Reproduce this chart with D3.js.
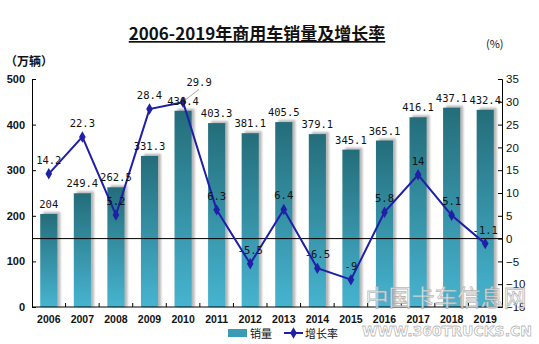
<!DOCTYPE html>
<html><head><meta charset="utf-8">
<script src="https://cdn.jsdelivr.net/npm/d3@7"></script>
<style>
body{margin:0;background:#fff;}
svg{display:block;}
</style></head>
<body>
<svg id="chart" width="539" height="344"></svg>
<script>
const years = ["2006","2007","2008","2009","2010","2011","2012","2013","2014","2015","2016","2017","2018","2019"];
const sales = [204,249.4,262.5,331.3,430.4,403.3,381.1,405.5,379.1,345.1,365.1,416.1,437.1,432.4];
const growth = [14.2,22.3,5.2,28.4,29.9,6.3,-5.5,6.4,-6.5,-9,5.8,14,5.1,-1.1];
const leftTicks = [0,100,200,300,400,500];
const rightTicks = [-15,-10,-5,0,5,10,15,20,25,30,35];
const title = "2006-2019年商用车销量及增长率";

const svg = d3.select("#chart");
const L = 32, R = 502, T = 79, B = 307;

const defs = svg.append("defs");
const grad = defs.append("linearGradient").attr("id","barGrad").attr("x1",0).attr("y1",0).attr("x2",0).attr("y2",1);
grad.append("stop").attr("offset","0%").attr("stop-color","#246d7a");
grad.append("stop").attr("offset","100%").attr("stop-color","#47b4d0");
const blur = defs.append("filter").attr("id","sh").attr("x","-50%").attr("y","-50%").attr("width","200%").attr("height","200%");
blur.append("feGaussianBlur").attr("stdDeviation",0.8);

const x = d3.scaleBand().domain(years).range([L,R]).paddingInner(0.49).paddingOuter(0.245);
const yL = d3.scaleLinear().domain([0,500]).range([B,T]);
const yR = d3.scaleLinear().domain([-15,35]).range([B,T]);
const cx = d => x(d) + x.bandwidth()/2;

// title
svg.append("text").attr("x",257).attr("y",40).attr("text-anchor","middle")
  .attr("font-family","'Noto Sans CJK SC', sans-serif").attr("font-weight","bold")
  .attr("font-size",17).attr("text-decoration","underline").attr("fill","#111").text(title);
svg.append("text").attr("x",5).attr("y",66).attr("font-family","'Noto Sans CJK SC', sans-serif")
  .attr("font-weight","bold").attr("font-size",12).attr("fill","#111").text("（万辆）");
svg.append("text").attr("x",486).attr("y",48).attr("font-family","'Noto Sans CJK SC', sans-serif")
  .attr("font-size",11).attr("fill","#111").text("(%)");

// bars
const bars = svg.append("g");
bars.selectAll("rect.sh").data(years).join("rect").attr("class","sh")
  .attr("x", d => x(d)+3).attr("y", (d,i) => yL(sales[i]) - 2)
  .attr("width", x.bandwidth()).attr("height", (d,i) => B - yL(sales[i]) + 2)
  .attr("fill","#9a9a9a").attr("opacity",0.7).attr("filter","url(#sh)");
bars.selectAll("rect.bar").data(years).join("rect").attr("class","bar")
  .attr("x", d => x(d)).attr("y", (d,i) => yL(sales[i]))
  .attr("width", x.bandwidth()).attr("height", (d,i) => B - yL(sales[i]))
  .attr("fill","url(#barGrad)");

// axes
const fontTick = "Arial, 'Liberation Sans', sans-serif";
const gL = svg.append("g").attr("transform",`translate(${L},0)`)
  .call(d3.axisLeft(yL).tickValues(leftTicks).tickSizeInner(-4).tickSizeOuter(-4).tickPadding(7));
gL.selectAll("text").attr("font-family",fontTick).attr("font-weight","bold").attr("font-size",11).attr("fill","#111");
const gR = svg.append("g").attr("transform",`translate(${R},0)`)
  .call(d3.axisRight(yR).tickValues(rightTicks).tickSizeInner(-4).tickSizeOuter(-4).tickPadding(4));
gR.selectAll("text").attr("font-family",fontTick).attr("font-size",11.5).attr("fill","#111");
svg.selectAll(".domain").attr("stroke","#000");
svg.selectAll(".tick line").attr("stroke","#000");

const gB = svg.append("g").attr("transform",`translate(0,${B})`)
  .call(d3.axisBottom(x).tickSize(0).tickPadding(9));
gB.select(".domain").remove();
gB.selectAll("text").attr("font-family",fontTick).attr("font-weight","bold").attr("font-size",10.5).attr("fill","#111");
svg.append("line").attr("x1",L).attr("x2",R).attr("y1",B).attr("y2",B).attr("stroke","#000");
svg.append("g").selectAll("line").data(years.slice(0,-1)).join("line")
  .attr("x1", d => x(d) + x.step()).attr("x2", d => x(d) + x.step())
  .attr("transform", `translate(${-(x.step()-x.bandwidth())/2},0)`)
  .attr("y1",B).attr("y2",B-4).attr("stroke","#000");

// zero line of growth
svg.append("line").attr("x1",L).attr("x2",R).attr("y1",yR(0)).attr("y2",yR(0)).attr("stroke","#000").attr("stroke-width",1);

// growth line
const lineColor = "#1f1fa8";
svg.append("path").datum(years)
  .attr("d", d3.line().x(d => cx(d)).y((d,i) => yR(growth[i])))
  .attr("fill","none").attr("stroke",lineColor).attr("stroke-width",2);
const diamond = d3.symbol().type(d3.symbolDiamond).size(38);
svg.append("g").selectAll("path").data(years).join("path")
  .attr("transform",(d,i) => `translate(${cx(d)},${yR(growth[i])})`)
  .attr("d",diamond).attr("fill",lineColor);

// labels
const fontLbl = "'DejaVu Sans Mono', 'Liberation Mono', monospace";
svg.append("g").selectAll("text").data(years).join("text")
  .attr("x", d => cx(d)).attr("y",(d,i) => yL(sales[i]) - 6)
  .attr("text-anchor","middle").attr("font-family",fontLbl).attr("font-size",10.5).attr("fill","#111")
  .text((d,i) => String(sales[i]));

// leader for 2010 growth label
const i10 = years.indexOf("2010");
svg.append("line").attr("x1",cx("2010")+2).attr("y1",yR(growth[i10])-2)
  .attr("x2",cx("2010")+16).attr("y2",yR(growth[i10])-13).attr("stroke","#aaa").attr("stroke-width",1);
svg.append("g").selectAll("text").data(years).join("text")
  .attr("x", d => d==="2010" ? cx(d)+16 : cx(d))
  .attr("y",(d,i) => d==="2010" ? yR(growth[i]) - 16 : yR(growth[i]) - 10)
  .attr("text-anchor","middle").attr("font-family",fontLbl).attr("font-size",10.5).attr("fill","#111")
  .text((d,i) => String(growth[i]));

// legend
svg.append("rect").attr("x",228).attr("y",329).attr("width",19).attr("height",8).attr("fill","#3a9bb5");
svg.append("text").attr("x",250).attr("y",338).attr("font-family","'Noto Sans CJK SC', sans-serif")
  .attr("font-size",11).attr("fill","#111").text("销量");
svg.append("line").attr("x1",284).attr("x2",303).attr("y1",333).attr("y2",333).attr("stroke",lineColor).attr("stroke-width",2);
svg.append("path").attr("transform","translate(293.5,333)").attr("d",diamond).attr("fill",lineColor);
svg.append("text").attr("x",305).attr("y",338).attr("font-family","'Noto Sans CJK SC', sans-serif")
  .attr("font-size",11).attr("fill","#111").text("增长率");

// watermark
svg.append("text").attr("x",446).attr("y",306).attr("text-anchor","middle")
  .attr("font-family","'Noto Sans CJK SC', sans-serif").attr("font-size",23)
  .attr("fill","#fff").attr("fill-opacity",0.75).attr("stroke","#999").attr("stroke-width",0.8).attr("stroke-opacity",0.7)
  .text("中国卡车信息网");
svg.append("text").attr("x",447).attr("y",336).attr("text-anchor","middle")
  .attr("font-family","'DejaVu Sans', sans-serif").attr("font-weight","bold").attr("font-size",14)
  .attr("fill","#fff").attr("fill-opacity",0.75).attr("stroke","#999").attr("stroke-width",0.8).attr("stroke-opacity",0.7)
  .text("WWW.360TRUCKS.CN");
</script>
</body></html>
